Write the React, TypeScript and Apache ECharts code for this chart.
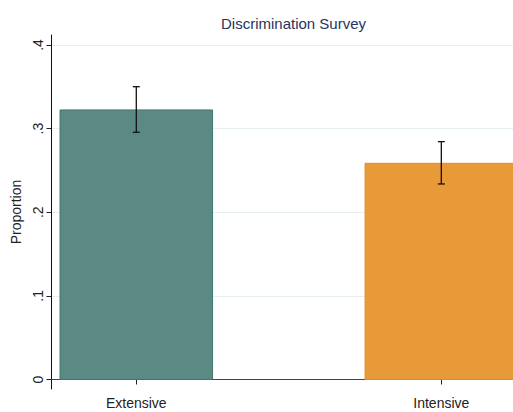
import React, { useEffect, useRef } from "react";
import * as echarts from "echarts";

const categories = ["Extensive", "Intensive"];
const proportions = [0.3223, 0.2585];
const ciLow = [0.2956, 0.2338];
const ciHigh = [0.3501, 0.2844];
const yTicks = [0, 0.1, 0.2, 0.3, 0.4];
const barColors = ["#5a8a83", "#e99a38"];
const barBorders = ["#3f766e", "#e08c22"];

export default function App() {
  const ref = useRef<HTMLDivElement>(null);
  useEffect(() => {
    if (!ref.current) return;
    const chart = echarts.init(ref.current, undefined, { renderer: "svg" });
    const positions = categories.map((_, i) => i + 1);
    const font = "Liberation Sans, Arial, sans-serif";
    chart.setOption({
      animation: false,
      title: {
        text: "Discrimination Survey",
        left: 288.5,
        top: 11,
        textAlign: "center",
        textStyle: { color: "#25345e", fontSize: 15, fontWeight: "normal", fontFamily: font },
      },
      grid: { left: 51.5, right: 0, top: 35, bottom: 23 },
      xAxis: {
        type: "value",
        min: 0.722,
        max: 2.235,
        axisLine: { show: true, lineStyle: { color: "#444", width: 1 } },
        axisTick: { show: true, length: 5, customValues: positions, lineStyle: { color: "#222" } },
        axisLabel: {
          customValues: positions,
          formatter: (v: number) => categories[Math.round(v) - 1] ?? "",
          color: "#222",
          fontSize: 14,
          fontFamily: font,
          margin: 7,
        },
        splitLine: { show: false },
      },
      yAxis: {
        type: "value",
        min: -0.01136,
        max: 0.4119,
        name: "Proportion",
        nameLocation: "middle",
        nameGap: 23,
        nameTextStyle: { color: "#222", fontSize: 14, fontFamily: font },
        axisLine: { show: true, lineStyle: { color: "#111", width: 1 } },
        axisTick: { show: true, length: 5, customValues: yTicks, lineStyle: { color: "#222" } },
        axisLabel: {
          customValues: yTicks,
          rotate: 90,
          formatter: (v: number) => (v === 0 ? "0" : v.toFixed(1).replace(/^0/, "")),
          color: "#222",
          fontSize: 14,
          fontFamily: font,
          margin: 7,
        },
        splitLine: { show: true, lineStyle: { color: "#e6f0f2", width: 1 } },
      },
      series: [
        {
          type: "custom",
          clip: true,
          data: positions.map((p, i) => [p, proportions[i]]),
          renderItem: (params: any, api: any) => {
            const x = api.value(0);
            const v = api.value(1);
            const a = api.coord([x - 0.25, v]);
            const b = api.coord([x + 0.25, 0]);
            return {
              type: "rect",
              shape: { x: a[0], y: a[1], width: b[0] - a[0], height: b[1] - a[1] },
              style: {
                fill: barColors[params.dataIndex],
                stroke: barBorders[params.dataIndex],
                lineWidth: 1,
              },
            };
          },
        },
        {
          type: "custom",
          clip: true,
          z: 3,
          data: positions.map((p, i) => [p, ciLow[i], ciHigh[i]]),
          renderItem: (params: any, api: any) => {
            const x = api.value(0);
            const lo = api.coord([x, api.value(1)]);
            const hi = api.coord([x, api.value(2)]);
            const cap = 3.5;
            const st = { stroke: "#111", lineWidth: 1.3 };
            return {
              type: "group",
              children: [
                { type: "line", shape: { x1: lo[0], y1: lo[1], x2: hi[0], y2: hi[1] }, style: st },
                { type: "line", shape: { x1: lo[0] - cap, y1: lo[1], x2: lo[0] + cap, y2: lo[1] }, style: st },
                { type: "line", shape: { x1: hi[0] - cap, y1: hi[1], x2: hi[0] + cap, y2: hi[1] }, style: st },
              ],
            };
          },
        },
      ],
    });
    return () => chart.dispose();
  }, []);
  return <div ref={ref} style={{ width: 513, height: 412, position: "absolute", left: 0, top: 0, background: "#fff" }} />;
}
